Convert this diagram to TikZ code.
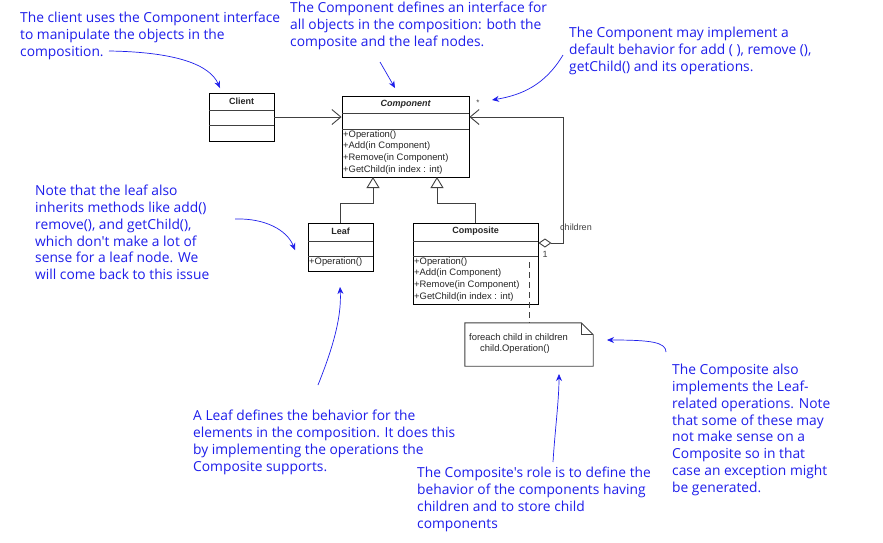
\documentclass[tikz,border=0pt]{standalone}
\usepackage{fontspec}
\setmainfont{Liberation Sans}
\newfontfamily\comic{Open Sans}
\usetikzlibrary{arrows.meta,calc}
\definecolor{annblue}{RGB}{30,30,235}
\definecolor{umlgray}{RGB}{64,64,64}
\tikzset{
  umlbox/.style={draw=black,line width=0.9pt,inner sep=0,fill=white},
  umltext/.style={font=\fontsize{9.4}{11.8}\selectfont,inner sep=0,align=left,text=black!85},
  umltitle/.style={font=\fontsize{9}{11}\selectfont\bfseries,inner sep=0,text=black!85},
  umlline/.style={draw=umlgray,line width=0.9pt},
  ann/.style={font=\comic\fontsize{13.8}{16.8}\selectfont,text=annblue,align=left,inner sep=0,anchor=north west},
  annarrow/.style={draw=annblue,line width=0.7pt,-{Stealth[length=7pt,width=6pt]}},
  inherit/.style={umlline,-{Triangle[open,length=11pt,width=13pt,fill=white]}},
  assoc/.style={umlline,-{Straight Barb[length=9pt,width=15pt]}},
}
\begin{document}
\begin{tikzpicture}[x=1pt,y=-1pt]
\useasboundingbox (0,0) rectangle (883,542);
\fill[white] (0,0) rectangle (883,542);

% ---------- UML classes ----------
\node[umlbox,minimum width=65,minimum height=48] (client) at (241.5,117) {};
\draw[umlline] (209,110) -- (274,110);
\draw[umlline] (209,125) -- (274,125);
\node[umltitle] (clientT) at (241.5,101.5) {Client};

\node[umlbox,minimum width=127,minimum height=81] (comp) at (405.5,136.5) {};
\draw[umlline] (342,113) -- (469,113);
\draw[umlline] (342,129) -- (469,129);
\node[umltitle,font=\fontsize{9}{11}\selectfont\bfseries\itshape] (compT) at (405.5,104.5) {Component};
\node[umltext,anchor=north west] (compM) at (343,130) {+Operation()\\+Add(in Component)\\+Remove(in Component)\\+GetChild(in index : int)};

\node[umlbox,minimum width=65,minimum height=48] (leaf) at (340.5,247) {};
\draw[umlline] (308,241) -- (373,241);
\draw[umlline] (308,256) -- (373,256);
\node[umltitle] (leafT) at (340.5,231.5) {Leaf};
\node[umltext,anchor=north west] (leafM) at (309,257) {+Operation()};

\node[umlbox,minimum width=125,minimum height=81] (compo) at (475.5,263.5) {};
\draw[umlline] (413,241) -- (538,241);
\draw[umlline] (413,256) -- (538,256);
\node[umltitle] (compoT) at (475.5,231.5) {Composite};
\node[umltext,anchor=north west] (compoM) at (414,257) {+Operation()\\+Add(in Component)\\+Remove(in Component)\\+GetChild(in index : int)};

% note
\node[minimum width=128,minimum height=43,inner sep=0] (note) at (529,344.5) {};
\draw[umlgray,line width=0.9pt] (note.north west) -- ($(note.north east)+(-12,0)$) -- ($(note.north east)+(0,12)$) -- (note.south east) -- (note.south west) -- cycle;
\draw[umlgray,line width=0.7pt] ($(note.north east)+(-12,0)$) -- ($(note.north east)+(-12,12)$) -- ($(note.north east)+(0,12)$);
\node[umltext,anchor=north west] (noteT) at (469,333) {foreach child in children\\\hspace*{11pt}child.Operation()};

% ---------- UML connectors ----------
\draw[assoc] (client.east) -- (client.east -| comp.west);
\coordinate (t1) at (373,177);
\coordinate (t2) at (437,177);
\draw[inherit] (leaf.north) -- (340.5,203) -| (t1);
\draw[inherit] (compo.north) -- (475.5,203) -| (t2);
\coordinate (agg) at (compo.east |- 0,243);
\draw[umlline,{Diamond[open,length=13pt,width=9pt,fill=white]}-{Straight Barb[length=9pt,width=15pt]}] (agg) -- (563,243) -- (563,117) -- (comp.east |- 0,117);
\draw[umlline,dash pattern=on 6pt off 4pt] (529,262) -- (note.north -| 529,0);
\node[font=\fontsize{8}{9}\selectfont,text=black!75,inner sep=0] (star) at (478,103) {*};
\node[font=\fontsize{9}{10}\selectfont,text=black!75,inner sep=0] (childrenL) at (576,227) {children};
\node[font=\fontsize{9}{10}\selectfont,text=black!75,inner sep=0] (oneL) at (545,254) {1};

% ---------- annotations ----------
\node[ann] (a1) at (20,12) {The client uses the Component interface\\to manipulate the objects in the\\composition.};
\node[ann] (a2) at (290,2) {The Component defines an interface for\\all objects in the composition: both the\\composite and the leaf nodes.};
\node[ann] (a3) at (569,27) {The Component may implement a\\default behavior for add ( ), remove (),\\getChild() and its operations.};
\node[ann] (a4) at (35,185) {Note that the leaf also\\inherits methods like add()\\remove(), and getChild(),\\which don't make a lot of\\sense for a leaf node. We\\will come back to this issue};
\node[ann] (a5) at (193,410) {A Leaf defines the behavior for the\\elements in the composition. It does this\\by implementing the operations the\\Composite supports.};
\node[ann] (a6) at (417,467) {The Composite's role is to define the\\behavior of the components having\\children and to store child\\components};
\node[ann] (a7) at (672,364) {The Composite also\\implements the Leaf-\\related operations. Note\\that some of these may\\not make sense on a\\Composite so in that\\case an exception might\\be generated.};

\coordinate (s1) at (109,51);  \coordinate (e1) at (220,88);
\coordinate (s2) at (380,62);  \coordinate (e2) at (395,88);
\coordinate (s3) at (563,55);  \coordinate (e3) at (492,100);
\coordinate (s4) at (235,219); \coordinate (e4) at (295,250);
\coordinate (s5) at (318,385); \coordinate (e5) at (340,287);
\coordinate (s6) at (553,462); \coordinate (e6) at (559,374);
\coordinate (s7) at (666,352); \coordinate (e7) at (607,340);
\draw[annarrow] (s1) .. controls (177,52) and (210,65) .. (e1);
\draw[annarrow] (s2) -- (e2);
\draw[annarrow] (s3) .. controls (545,85) and (522,95) .. (e3);
\draw[annarrow] (s4) .. controls (265,218) and (287,230) .. (e4);
\draw[annarrow] (s5) .. controls (330,355) and (342,320) .. (e5);
\draw[annarrow] (s6) .. controls (555,430) and (559,400) .. (e6);
\draw[annarrow] (s7) .. controls (666,342) and (650,340) .. (e7);
\end{tikzpicture}
\end{document}
